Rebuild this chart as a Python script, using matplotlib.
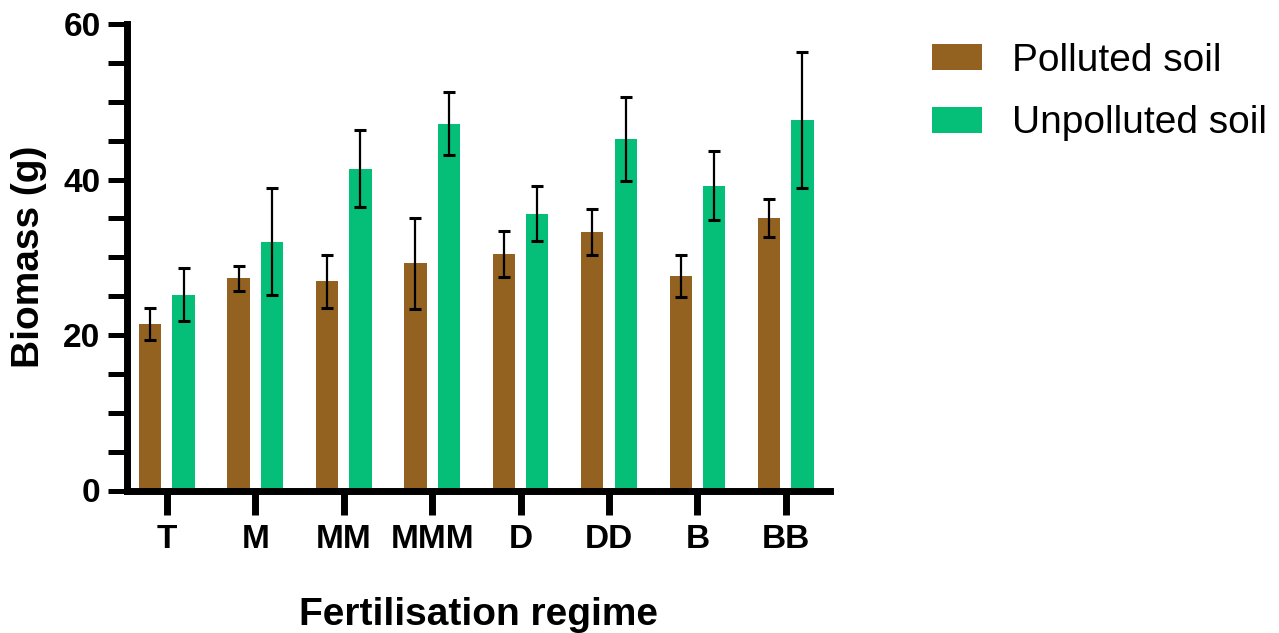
import matplotlib
matplotlib.use("Agg")
import matplotlib.pyplot as plt
import numpy as np

categories = ["T", "M", "MM", "MMM", "D", "DD", "B", "BB"]
polluted = [21.4, 27.3, 26.9, 29.2, 30.4, 33.2, 27.6, 35.0]
polluted_err = [2.1, 1.6, 3.4, 5.9, 2.95, 2.95, 2.65, 2.45]
unpolluted = [25.2, 32.0, 41.4, 47.2, 35.6, 45.2, 39.2, 47.6]
unpolluted_err = [3.4, 6.9, 4.95, 4.1, 3.55, 5.45, 4.45, 8.75]
series_labels = ["Polluted soil", "Unpolluted soil"]

brown = "#946220"
green = "#05BF78"

plt.rcParams['font.family'] = ['Liberation Sans', 'DejaVu Sans']

fig = plt.figure(figsize=(12.79, 6.33), dpi=100)
ax = fig.add_axes([127/1279, 1-490.5/633, 703/1279, 466.5/633])

x = np.arange(len(categories))
w = 0.252
off = 0.189
ekw = dict(ecolor="black", elinewidth=1.6, capsize=4.4, capthick=2.2)
ax.bar(x - off, polluted, w, color=brown, label=series_labels[0],
       yerr=polluted_err, error_kw=ekw, zorder=2)
ax.bar(x + off, unpolluted, w, color=green, label=series_labels[1],
       yerr=unpolluted_err, error_kw=ekw, zorder=2)

ax.set_xlim(-0.45, 7.5)
ax.set_ylim(0, 60)
ax.set_xticks(x)
ax.set_xticklabels(categories, fontsize=24, fontweight="bold")
ax.set_yticks([0, 20, 40, 60])
ax.set_yticks(np.arange(0, 61, 5), minor=True)
ax.set_yticklabels(["0", "20", "40", "60"], fontsize=24, fontweight="bold")

for s in ["top", "right"]:
    ax.spines[s].set_visible(False)
for s in ["left", "bottom"]:
    ax.spines[s].set_linewidth(5)
    ax.spines[s].set_capstyle("projecting")

ax.tick_params(axis="y", which="both", length=14, width=3.6, pad=5, direction="out")
ax.tick_params(axis="x", which="major", length=17, width=5, pad=7)

ax.set_ylabel("Biomass (g)", fontsize=28, fontweight="bold")
ax.yaxis.set_label_coords(-0.114, 0.5)
ax.set_xlabel("Fertilisation regime", fontsize=28, fontweight="bold")
ax.xaxis.set_label_coords(0.5, -0.228)

fig.legend(loc="upper left", bbox_to_anchor=(932/1279, 1-43/633),
           frameon=False, fontsize=28, handlelength=1.29, handleheight=0.64,
           handletextpad=0.77, labelspacing=0.68, borderpad=0, borderaxespad=0)

fig.savefig("out.png", dpi=100)
